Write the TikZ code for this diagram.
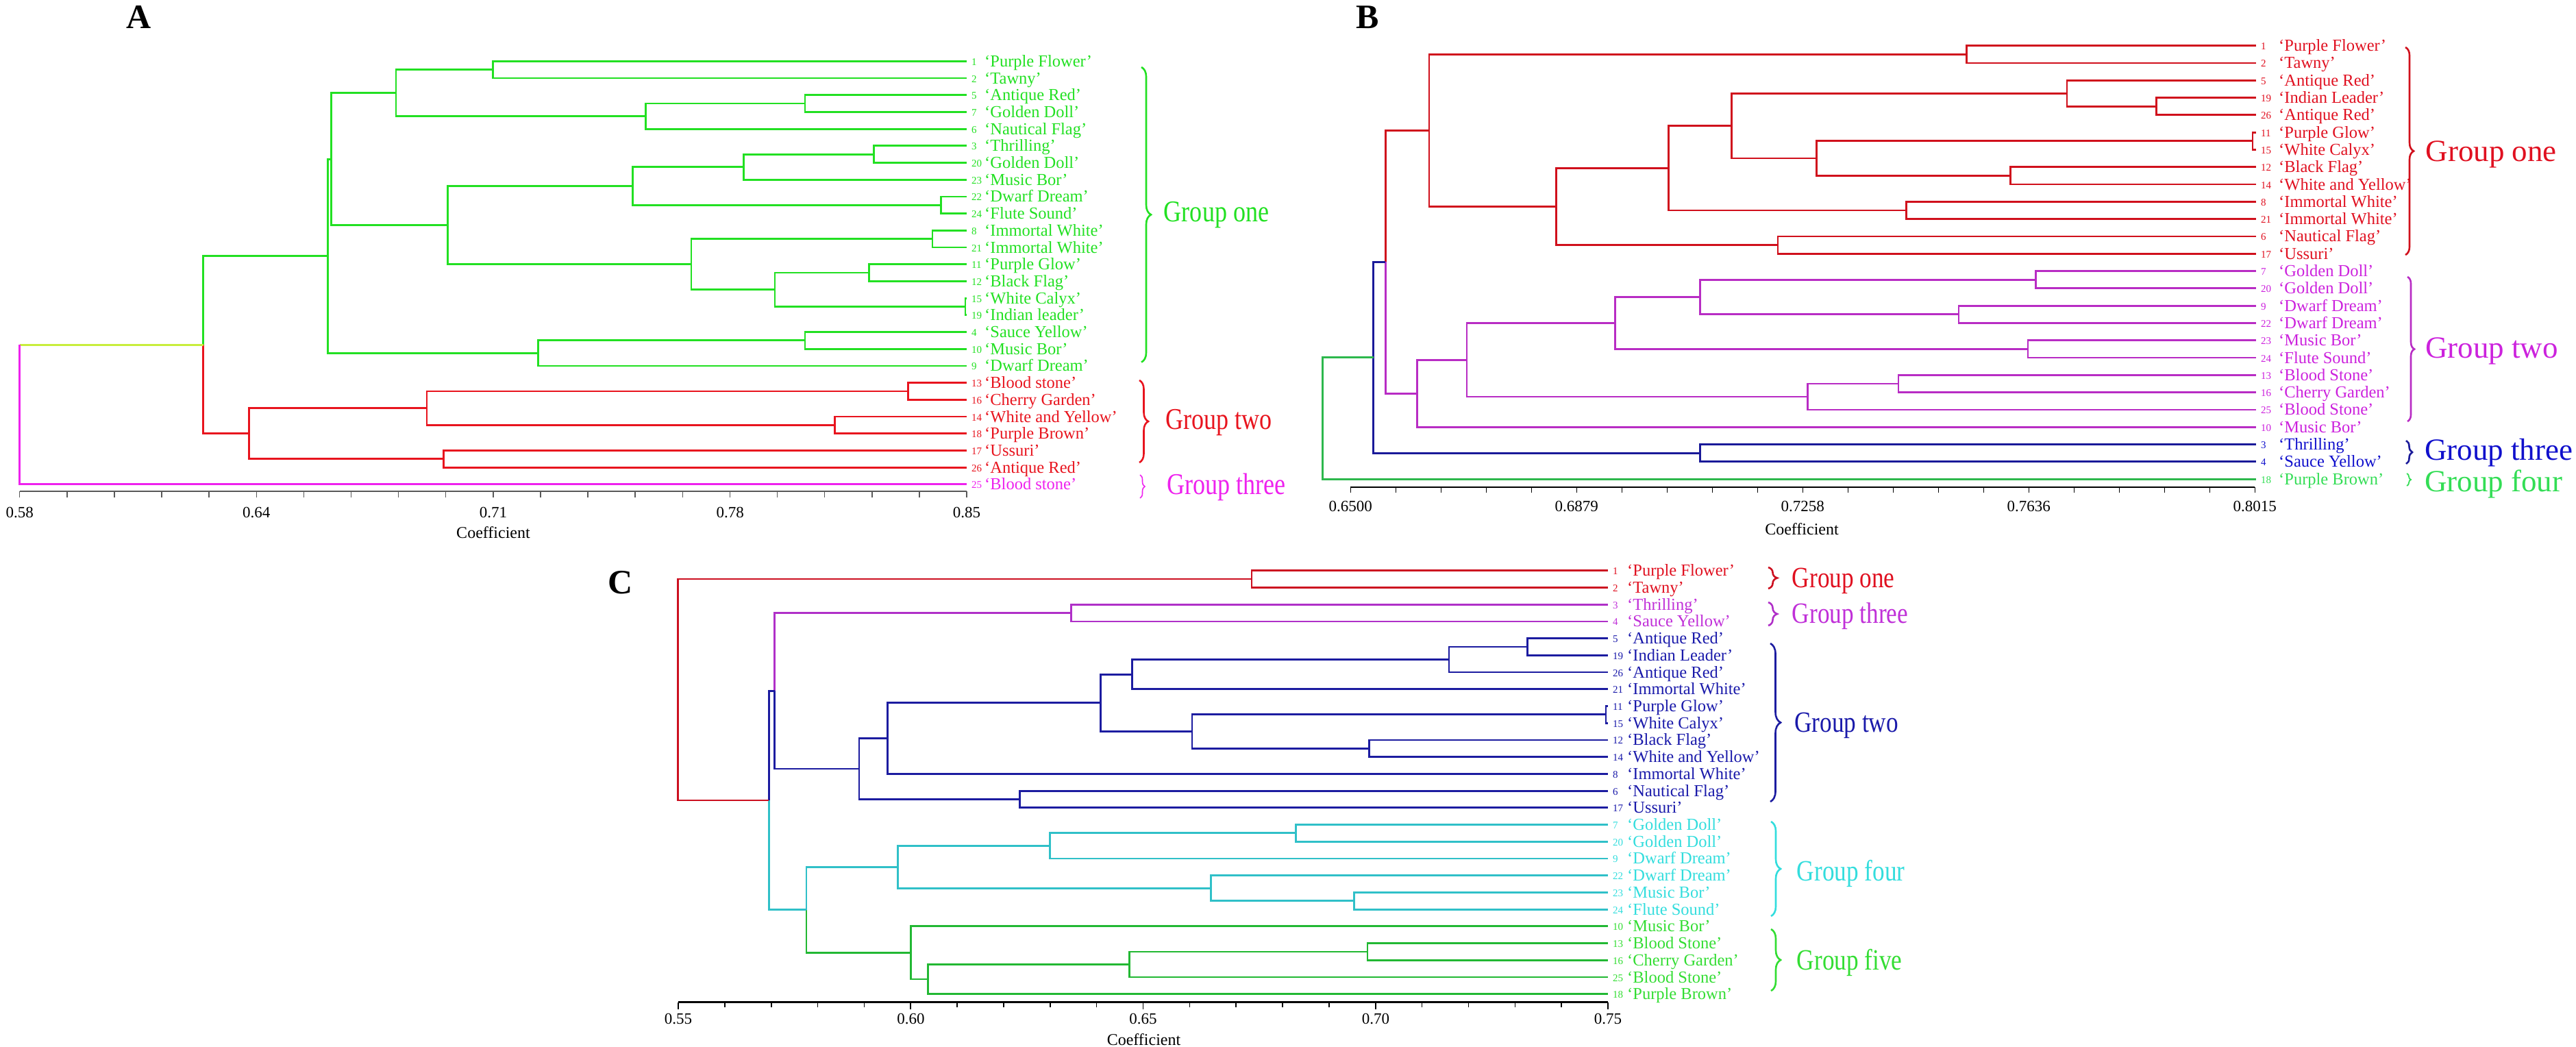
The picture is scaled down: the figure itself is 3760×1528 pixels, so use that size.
\documentclass[tikz,border=0pt]{standalone}
\usepackage{fontspec}
\setmainfont{Liberation Serif}
\newfontfamily\grpfont{Liberation Serif}[FakeStretch=0.82]
\usetikzlibrary{decorations.pathreplacing}

% panel A colours
\definecolor{agreen}{HTML}{22E022}
\definecolor{ared}{HTML}{E8141E}
\definecolor{amag}{HTML}{EE22EE}
\definecolor{ayel}{HTML}{C8EE3C}
% panel B colours
\definecolor{bred}{HTML}{D0101C}
\definecolor{bredt}{HTML}{E01020}
\definecolor{bpurple}{HTML}{B82CC4}
\definecolor{bpurplet}{HTML}{CC22DD}
\definecolor{bblue}{HTML}{1A1A99}
\definecolor{bbluet}{HTML}{1010CC}
\definecolor{bgreen}{HTML}{2DB84D}
\definecolor{bgreent}{HTML}{33DD55}
% panel C colours
\definecolor{cred}{HTML}{CC1020}
\definecolor{credt}{HTML}{E01020}
\definecolor{cpurple}{HTML}{B030C8}
\definecolor{cpurplet}{HTML}{C030D8}
\definecolor{cblue}{HTML}{1C1CA0}
\definecolor{cbluet}{HTML}{1A1AAA}
\definecolor{ccyan}{HTML}{30C0C8}
\definecolor{ccyant}{HTML}{33DDDD}
\definecolor{cgreen}{HTML}{22B833}
\definecolor{cgreent}{HTML}{33DD33}

\newlength{\numw}
\newcommand{\cv}[2]{\makebox[\numw][l]{\raisebox{2pt}{\fontsize{15}{15}\selectfont #1}}`#2'}

\tikzset{
  leaf/.style={anchor=west, inner xsep=7pt, inner ysep=0pt, text height=16pt, text depth=0pt,
    font=\fontsize{24.5}{25}\selectfont},
  branch/.style={line width=2.8pt},
  grp/.style={anchor=base west, inner sep=0pt, font=\grpfont\fontsize{#1}{#1}\selectfont},
  grpn/.style={anchor=base west, inner sep=0pt, font=\fontsize{#1}{#1}\selectfont},
  panel/.style={inner sep=0pt, font=\fontsize{50}{50}\selectfont\bfseries},
  tick/.style={inner sep=0pt, font=\fontsize{23}{23}\selectfont},
  axt/.style={inner sep=0pt, font=\fontsize{24}{24}\selectfont},
  gbrace/.style={decorate, decoration={brace, amplitude=#1}, line width=2.6pt},
}

\begin{document}
\begin{tikzpicture}[x=1pt, y=-1pt]
\useasboundingbox (0,0) rectangle (3760,1528);

% ================= Panel A =================
\begin{scope}
\setlength{\numw}{19pt}
\node[panel] (pA) at (203,25) {A};

% leaves
\node[leaf, text=agreen] (A1) at (1411,89.3) {\cv{1}{Purple Flower}};
\node[leaf, text=agreen] (A2) at (1411,114.0) {\cv{2}{Tawny}};
\node[leaf, text=agreen] (A5) at (1411,138.7) {\cv{5}{Antique Red}};
\node[leaf, text=agreen] (A7) at (1411,163.4) {\cv{7}{Golden Doll}};
\node[leaf, text=agreen] (A6) at (1411,188.1) {\cv{6}{Nautical Flag}};
\node[leaf, text=agreen] (A3) at (1411,212.8) {\cv{3}{Thrilling}};
\node[leaf, text=agreen] (A20) at (1411,237.5) {\cv{20}{Golden Doll}};
\node[leaf, text=agreen] (A23) at (1411,262.2) {\cv{23}{Music Bor}};
\node[leaf, text=agreen] (A22) at (1411,286.9) {\cv{22}{Dwarf Dream}};
\node[leaf, text=agreen] (A24) at (1411,311.6) {\cv{24}{Flute Sound}};
\node[leaf, text=agreen] (A8) at (1411,336.3) {\cv{8}{Immortal White}};
\node[leaf, text=agreen] (A21) at (1411,361.0) {\cv{21}{Immortal White}};
\node[leaf, text=agreen] (A11) at (1411,385.7) {\cv{11}{Purple Glow}};
\node[leaf, text=agreen] (A12) at (1411,410.4) {\cv{12}{Black Flag}};
\node[leaf, text=agreen] (A15) at (1411,435.1) {\cv{15}{White Calyx}};
\node[leaf, text=agreen] (A19) at (1411,459.8) {\cv{19}{Indian leader}};
\node[leaf, text=agreen] (A4) at (1411,484.5) {\cv{4}{Sauce Yellow}};
\node[leaf, text=agreen] (A10) at (1411,509.2) {\cv{10}{Music Bor}};
\node[leaf, text=agreen] (A9) at (1411,533.9) {\cv{9}{Dwarf Dream}};
\node[leaf, text=ared] (A13) at (1411,558.6) {\cv{13}{Blood stone}};
\node[leaf, text=ared] (A16) at (1411,583.3) {\cv{16}{Cherry Garden}};
\node[leaf, text=ared] (A14) at (1411,608.0) {\cv{14}{White and Yellow}};
\node[leaf, text=ared] (A18) at (1411,632.7) {\cv{18}{Purple Brown}};
\node[leaf, text=ared] (A17) at (1411,657.4) {\cv{17}{Ussuri}};
\node[leaf, text=ared] (A26) at (1411,682.1) {\cv{26}{Antique Red}};
\node[leaf, text=amag] (A25) at (1411,706.8) {\cv{25}{Blood stone}};

% group one
\draw[branch, agreen] (A1.west) -| (719.7,101.65) coordinate (aj1) |- (A2.west);
\draw[branch, agreen] (A5.west) -| (1175,151.05) coordinate (aj2) |- (A7.west);
\draw[branch, agreen] (aj2) -| (942.7,169.58) coordinate (aj3) |- (A6.west);
\draw[branch, agreen] (aj1) -| (578,135.61) coordinate (aj4) |- (aj3);
\draw[branch, agreen] (A3.west) -| (1275.3,225.15) coordinate (aj5) |- (A20.west);
\draw[branch, agreen] (aj5) -| (1085.4,243.68) coordinate (aj6) |- (A23.west);
\draw[branch, agreen] (A22.west) -| (1373.7,299.25) coordinate (aj7) |- (A24.west);
\draw[branch, agreen] (aj6) -| (923.7,271.46) coordinate (aj8) |- (aj7);
\draw[branch, agreen] (A8.west) -| (1361,348.65) coordinate (aj9) |- (A21.west);
\draw[branch, agreen] (A11.west) -| (1268.7,398.05) coordinate (aj10) |- (A12.west);
\draw[branch, agreen] (A15.west) -| (1409,447.45) coordinate (aj11) |- (A19.west);
\draw[branch, agreen] (aj10) -| (1131,422.75) coordinate (aj12) |- (aj11);
\draw[branch, agreen] (aj9) -| (1009,385.7) coordinate (aj13) |- (aj12);
\draw[branch, agreen] (aj8) -| (653.4,328.58) coordinate (aj14) |- (aj13);
\draw[branch, agreen] (aj4) -| (483.4,232.1) coordinate (aj15) |- (aj14);
\draw[branch, agreen] (A4.west) -| (1175,496.85) coordinate (aj16) |- (A10.west);
\draw[branch, agreen] (aj16) -| (785.3,515.38) coordinate (aj17) |- (A9.west);
\draw[branch, agreen] (aj15) -| (478.5,373.74) coordinate (aj18) |- (aj17);
% group two
\draw[branch, ared] (A13.west) -| (1325.3,570.95) coordinate (aj19) |- (A16.west);
\draw[branch, ared] (A14.west) -| (1218.8,620.35) coordinate (aj20) |- (A18.west);
\draw[branch, ared] (aj19) -| (623,595.65) coordinate (aj21) |- (aj20);
\draw[branch, ared] (A17.west) -| (647.3,669.75) coordinate (aj22) |- (A26.west);
\draw[branch, ared] (aj21) -| (363.5,632.7) coordinate (aj23) |- (aj22);
% joining the groups
\draw[branch, agreen] (aj18) -| (296.7,503.22) coordinate (aj24);
\draw[branch, ared] (aj23) -| (aj24);
\draw[branch, ayel] (aj24) -- (28.7,503.22) coordinate (aroot);
\draw[branch, amag] (aroot) |- (A25.west);

% braces and group names
\draw[gbrace=14pt, agreen] (1666,98) -- (1666,528.6);
\draw[gbrace=13pt, ared] (1663,555) -- (1663,675);
\draw[gbrace=7pt, amag, line width=1.6pt] (1664,693) -- (1664,727);
\node[grp=44, text=agreen] (gA1) at (1698.7,323.5) {Group one};
\node[grp=44, text=ared] (gA2) at (1701.5,626.2) {Group two};
\node[grp=44, text=amag] (gA3) at (1703,721.2) {Group three};

% axis
\draw[line width=2pt, black!65] (28.7,717) -- (1411,717);
\foreach \i in {0,...,20}
  \draw[line width=1.5pt, black!65] ({28.7+69.115*\i},717) -- ++(0,9);
\node[tick] (tA1) at (28.7,748) {0.58};
\node[tick] (tA2) at (374.3,748) {0.64};
\node[tick] (tA3) at (720,748) {0.71};
\node[tick] (tA4) at (1065.7,748) {0.78};
\node[tick] (tA5) at (1411,748) {0.85};
\node[axt] (cA) at (720,777) {Coefficient};
\end{scope}

% ================= Panel B =================
\begin{scope}
\setlength{\numw}{26pt}
\node[panel] (pB) at (1996,25) {B};

% leaves
\node[leaf, text=bredt] (B1) at (3293,66.6) {\cv{1}{Purple Flower}};
\node[leaf, text=bredt] (B2) at (3293,91.9) {\cv{2}{Tawny}};
\node[leaf, text=bredt] (B5) at (3293,117.2) {\cv{5}{Antique Red}};
\node[leaf, text=bredt] (B19) at (3293,142.5) {\cv{19}{Indian Leader}};
\node[leaf, text=bredt] (B26) at (3293,167.8) {\cv{26}{Antique Red}};
\node[leaf, text=bredt] (B11) at (3293,193.1) {\cv{11}{Purple Glow}};
\node[leaf, text=bredt] (B15) at (3293,218.4) {\cv{15}{White Calyx}};
\node[leaf, text=bredt] (B12) at (3293,243.7) {\cv{12}{Black Flag}};
\node[leaf, text=bredt] (B14) at (3293,269.0) {\cv{14}{White and Yellow}};
\node[leaf, text=bredt] (B8) at (3293,294.3) {\cv{8}{Immortal White}};
\node[leaf, text=bredt] (B21) at (3293,319.6) {\cv{21}{Immortal White}};
\node[leaf, text=bredt] (B6) at (3293,344.9) {\cv{6}{Nautical Flag}};
\node[leaf, text=bredt] (B17) at (3293,370.2) {\cv{17}{Ussuri}};
\node[leaf, text=bpurplet] (B7) at (3293,395.5) {\cv{7}{Golden Doll}};
\node[leaf, text=bpurplet] (B20) at (3293,420.8) {\cv{20}{Golden Doll}};
\node[leaf, text=bpurplet] (B9) at (3293,446.1) {\cv{9}{Dwarf Dream}};
\node[leaf, text=bpurplet] (B22) at (3293,471.4) {\cv{22}{Dwarf Dream}};
\node[leaf, text=bpurplet] (B23) at (3293,496.7) {\cv{23}{Music Bor}};
\node[leaf, text=bpurplet] (B24) at (3293,522.0) {\cv{24}{Flute Sound}};
\node[leaf, text=bpurplet] (B13) at (3293,547.3) {\cv{13}{Blood Stone}};
\node[leaf, text=bpurplet] (B16) at (3293,572.6) {\cv{16}{Cherry Garden}};
\node[leaf, text=bpurplet] (B25) at (3293,597.9) {\cv{25}{Blood Stone}};
\node[leaf, text=bpurplet] (B10) at (3293,623.2) {\cv{10}{Music Bor}};
\node[leaf, text=bbluet] (B3) at (3293,648.5) {\cv{3}{Thrilling}};
\node[leaf, text=bbluet] (B4) at (3293,673.8) {\cv{4}{Sauce Yellow}};
\node[leaf, text=bgreent] (B18) at (3293,699.1) {\cv{18}{Purple Brown}};

% group one
\draw[branch, bred] (B1.west) -| (2870.4,79.25) coordinate (bj1) |- (B2.west);
\draw[branch, bred] (B19.west) -| (3147.8,155.15) coordinate (bj2) |- (B26.west);
\draw[branch, bred] (B5.west) -| (3017,136.18) coordinate (bj3) |- (bj2);
\draw[branch, bred] (B11.west) -| (3288,205.75) coordinate (bj4) |- (B15.west);
\draw[branch, bred] (B12.west) -| (2934.7,256.35) coordinate (bj5) |- (B14.west);
\draw[branch, bred] (bj4) -| (2651.5,231.05) coordinate (bj6) |- (bj5);
\draw[branch, bred] (bj3) -| (2527.5,183.61) coordinate (bj7) |- (bj6);
\draw[branch, bred] (B8.west) -| (2782.4,306.95) coordinate (bj8) |- (B21.west);
\draw[branch, bred] (bj7) -| (2435.7,245.28) coordinate (bj9) |- (bj8);
\draw[branch, bred] (B6.west) -| (2594.9,357.55) coordinate (bj10) |- (B17.west);
\draw[branch, bred] (bj9) -| (2271.2,301.42) coordinate (bj11) |- (bj10);
\draw[branch, bred] (bj1) -| (2086,190.33) coordinate (bj12) |- (bj11);
% group two
\draw[branch, bpurple] (B7.west) -| (2971.4,408.15) coordinate (bj13) |- (B20.west);
\draw[branch, bpurple] (B9.west) -| (2858.9,458.75) coordinate (bj14) |- (B22.west);
\draw[branch, bpurple] (bj13) -| (2481.6,433.45) coordinate (bj15) |- (bj14);
\draw[branch, bpurple] (B23.west) -| (2960,509.35) coordinate (bj16) |- (B24.west);
\draw[branch, bpurple] (bj15) -| (2357.6,471.4) coordinate (bj17) |- (bj16);
\draw[branch, bpurple] (B13.west) -| (2770.9,559.95) coordinate (bj18) |- (B16.west);
\draw[branch, bpurple] (bj18) -| (2638.5,578.93) coordinate (bj19) |- (B25.west);
\draw[branch, bpurple] (bj17) -| (2141,525.16) coordinate (bj20) |- (bj19);
\draw[branch, bpurple] (bj20) -| (2068.4,574.18) coordinate (bj21) |- (B10.west);
% joining the groups
\draw[branch, bred] (bj12) -| (2022.4,382.26) coordinate (bj22);
\draw[branch, bpurple] (bj21) -| (bj22);
\draw[branch, bblue] (B3.west) -| (2481.6,661.15) coordinate (bj23) |- (B4.west);
\draw[branch, bblue] (bj22) -| (2004.8,521.7) coordinate (bj24) |- (bj23);
\draw[branch, bgreen] (bj24) -| (1930.6,610.4) coordinate (bj25) |- (B18.west);

% braces and group names
\draw[gbrace=12pt, bred] (3511,69) -- (3511,372);
\draw[gbrace=10pt, bpurple] (3514,404) -- (3514,615);
\draw[gbrace=9pt, bblue] (3512,643) -- (3512,677);
\draw[gbrace=6pt, bgreent, line width=1.8pt] (3513,691) -- (3513,709);
\node[grpn=45, text=bredt] (gB1) at (3540.5,235.3) {Group one};
\node[grpn=45, text=bpurplet] (gB2) at (3540,522.2) {Group two};
\node[grpn=45, text=bbluet] (gB3) at (3539,671.5) {Group three};
\node[grpn=45, text=bgreent] (gB4) at (3539,717.4) {Group four};

% axis
\draw[line width=2.2pt] (1971.3,711) -- (3291.3,711);
\foreach \i in {0,...,20}
  \draw[line width=1.5pt] ({1971.3+66*\i},711) -- ++(0,8);
\node[tick] (tB1) at (1971.3,739) {0.6500};
\node[tick] (tB2) at (2301.3,739) {0.6879};
\node[tick] (tB3) at (2631.3,739) {0.7258};
\node[tick] (tB4) at (2961.3,739) {0.7636};
\node[tick] (tB5) at (3291.3,739) {0.8015};
\node[axt] (cB) at (2630,771.7) {Coefficient};
\end{scope}

% ================= Panel C =================
\begin{scope}
\setlength{\numw}{21pt}
\node[panel] (pC) at (906,850) {C};

% leaves
\node[leaf, text=credt] (C1) at (2347,832.7) {\cv{1}{Purple Flower}};
\node[leaf, text=credt] (C2) at (2347,857.4) {\cv{2}{Tawny}};
\node[leaf, text=cpurplet] (C3) at (2347,882.1) {\cv{3}{Thrilling}};
\node[leaf, text=cpurplet] (C4) at (2347,906.9) {\cv{4}{Sauce Yellow}};
\node[leaf, text=cbluet] (C5) at (2347,931.6) {\cv{5}{Antique Red}};
\node[leaf, text=cbluet] (C19) at (2347,956.3) {\cv{19}{Indian Leader}};
\node[leaf, text=cbluet] (C26) at (2347,981.0) {\cv{26}{Antique Red}};
\node[leaf, text=cbluet] (C21) at (2347,1005.7) {\cv{21}{Immortal White}};
\node[leaf, text=cbluet] (C11) at (2347,1030.5) {\cv{11}{Purple Glow}};
\node[leaf, text=cbluet] (C15) at (2347,1055.2) {\cv{15}{White Calyx}};
\node[leaf, text=cbluet] (C12) at (2347,1079.9) {\cv{12}{Black Flag}};
\node[leaf, text=cbluet] (C14) at (2347,1104.6) {\cv{14}{White and Yellow}};
\node[leaf, text=cbluet] (C8) at (2347,1129.3) {\cv{8}{Immortal White}};
\node[leaf, text=cbluet] (C6) at (2347,1154.1) {\cv{6}{Nautical Flag}};
\node[leaf, text=cbluet] (C17) at (2347,1178.8) {\cv{17}{Ussuri}};
\node[leaf, text=ccyant] (C7) at (2347,1203.5) {\cv{7}{Golden Doll}};
\node[leaf, text=ccyant] (C20) at (2347,1228.2) {\cv{20}{Golden Doll}};
\node[leaf, text=ccyant] (C9) at (2347,1252.9) {\cv{9}{Dwarf Dream}};
\node[leaf, text=ccyant] (C22) at (2347,1277.7) {\cv{22}{Dwarf Dream}};
\node[leaf, text=ccyant] (C23) at (2347,1302.4) {\cv{23}{Music Bor}};
\node[leaf, text=ccyant] (C24) at (2347,1327.1) {\cv{24}{Flute Sound}};
\node[leaf, text=cgreent] (C10) at (2347,1351.8) {\cv{10}{Music Bor}};
\node[leaf, text=cgreent] (C13) at (2347,1376.5) {\cv{13}{Blood Stone}};
\node[leaf, text=cgreent] (C16) at (2347,1401.3) {\cv{16}{Cherry Garden}};
\node[leaf, text=cgreent] (C25) at (2347,1426.0) {\cv{25}{Blood Stone}};
\node[leaf, text=cgreent] (C18) at (2347,1450.7) {\cv{18}{Purple Brown}};

% groups one and three
\draw[branch, cred] (C1.west) -| (1827,845.05) coordinate (cj1) |- (C2.west);
\draw[branch, cpurple] (C3.west) -| (1563.3,894.5) coordinate (cj2) |- (C4.west);
% group two
\draw[branch, cblue] (C5.west) -| (2229.8,943.95) coordinate (cj3) |- (C19.west);
\draw[branch, cblue] (cj3) -| (2115,962.48) coordinate (cj4) |- (C26.west);
\draw[branch, cblue] (cj4) -| (1652.1,984.09) coordinate (cj5) |- (C21.west);
\draw[branch, cblue] (C11.west) -| (2344,1042.85) coordinate (cj6) |- (C15.west);
\draw[branch, cblue] (C12.west) -| (1998.7,1092.25) coordinate (cj7) |- (C14.west);
\draw[branch, cblue] (cj6) -| (1740,1067.55) coordinate (cj8) |- (cj7);
\draw[branch, cblue] (cj5) -| (1606.5,1025.82) coordinate (cj9) |- (cj8);
\draw[branch, cblue] (cj9) -| (1295.5,1077.56) coordinate (cj10) |- (C8.west);
\draw[branch, cblue] (C6.west) -| (1488.7,1166.45) coordinate (cj11) |- (C17.west);
\draw[branch, cblue] (cj10) -| (1254,1122) coordinate (cj12) |- (cj11);
% group four
\draw[branch, ccyan] (C7.west) -| (1891.7,1215.85) coordinate (cj14) |- (C20.west);
\draw[branch, ccyan] (cj14) -| (1532.7,1234.38) coordinate (cj15) |- (C9.west);
\draw[branch, ccyan] (C23.west) -| (1976.3,1314.75) coordinate (cj16) |- (C24.west);
\draw[branch, ccyan] (C22.west) -| (1767.3,1296.23) coordinate (cj17) |- (cj16);
\draw[branch, ccyan] (cj15) -| (1310.5,1265.3) coordinate (cj18) |- (cj17);
% group five
\draw[branch, cgreen] (C13.west) -| (1996,1388.9) coordinate (cj19) |- (C16.west);
\draw[branch, cgreen] (cj19) -| (1648.8,1407.45) coordinate (cj20) |- (C25.west);
\draw[branch, cgreen] (cj20) -| (1354.4,1429.08) coordinate (cj21) |- (C18.west);
\draw[branch, cgreen] (C10.west) -| (1329.5,1390.44) coordinate (cj22) |- (cj21);
% joining the groups
\draw[branch, cpurple] (cj2) -| (1130.5,1008.25) coordinate (cj13);
\draw[branch, cblue] (cj12) -| (cj13);
\draw[branch, ccyan] (cj18) -| (1177,1327.87) coordinate (cj23);
\draw[branch, cgreen] (cj22) -| (cj23);
\draw[branch, cblue] (cj13) -| (1122.2,1168.06) coordinate (cj24);
\draw[branch, ccyan] (cj23) -| (cj24);
\draw[branch, cred] (cj1) -| (989.6,1006.56) coordinate (cj25) |- (cj24);

% braces and group names
\draw[gbrace=13pt, cred] (2581,828) -- (2581,859);
\draw[gbrace=13pt, cpurple] (2581,879) -- (2581,913);
\draw[gbrace=15pt, cblue] (2584,939) -- (2584,1170);
\draw[gbrace=14pt, ccyant] (2585,1199) -- (2585,1337);
\draw[gbrace=14pt, cgreent] (2585,1356) -- (2585,1446);
\node[grp=43, text=credt] (gC1) at (2615.6,857.6) {Group one};
\node[grp=43, text=cpurplet] (gC3) at (2615.6,909) {Group three};
\node[grp=43, text=cbluet] (gC2) at (2619,1068.9) {Group two};
\node[grp=43, text=ccyant] (gC4) at (2622.6,1285.6) {Group four};
\node[grp=43, text=cgreent] (gC5) at (2622.6,1415) {Group five};

% axis
\draw[line width=3pt] (990,1462.7) -- (2347,1462.7);
\foreach \i in {0,...,20}
  \draw[line width=1.6pt] ({990+67.85*\i},1462.7) -- ++(0,7);
\foreach \i in {0,...,4}
  \draw[line width=1.8pt] ({990+339.25*\i},1462.7) -- ++(0,10);
\node[tick] (tC1) at (990,1486.7) {0.55};
\node[tick] (tC2) at (1329.5,1486.7) {0.60};
\node[tick] (tC3) at (1668.5,1486.7) {0.65};
\node[tick] (tC4) at (2008,1486.7) {0.70};
\node[tick] (tC5) at (2347,1486.7) {0.75};
\node[axt] (cC) at (1669.5,1516.7) {Coefficient};
\end{scope}
\end{tikzpicture}
\end{document}
